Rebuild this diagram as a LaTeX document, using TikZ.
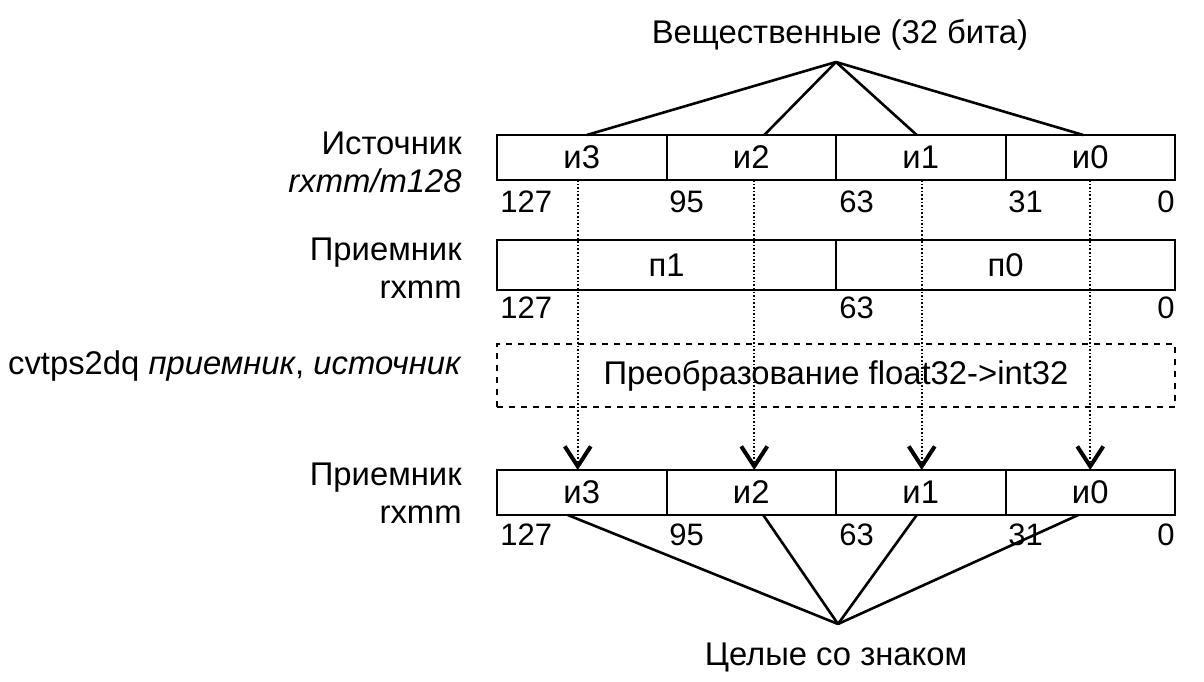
\documentclass[tikz,border=0pt]{standalone}
\usepackage{fontspec}
\setmainfont{Liberation Sans}
\usetikzlibrary{arrows.meta}
\begin{document}
\begin{tikzpicture}[x=0.5pt,y=-0.5pt,
  every node/.style={font=\fontsize{16.4}{19}\selectfont},
  cell/.style={draw, line width=1pt, minimum width=84.75pt, minimum height=22.5pt, inner sep=0pt, outer sep=0pt},
  wcell/.style={draw, line width=1pt, minimum width=169.5pt, minimum height=25pt, inner sep=0pt, outer sep=0pt},
  bit/.style={inner sep=0pt, font=\fontsize{15.5}{18}\selectfont},
  lab/.style={align=right, anchor=east, inner sep=0pt},
  fan/.style={line width=1.3pt},
  flow/.style={densely dotted, line width=0.8pt, -{Straight Barb[length=10pt,width=13pt,line width=2pt]}}]
\useasboundingbox (0,0) rectangle (1204,681);

% title
\node (title) at (840,35) {Вещественные (32 бита)};
\coordinate (topapex) at (836,62);

% source register
\node[cell] (s3) at (581.75,157.5) {и3};
\node[cell] (s2) at (751.25,157.5) {и2};
\node[cell] (s1) at (920.75,157.5) {и1};
\node[cell] (s0) at (1090.25,157.5) {и0};
\node[bit, anchor=west] (sb127) at (500,202) {127};
\node[bit, anchor=west] (sb95) at (669,202) {95};
\node[bit, anchor=west] (sb63) at (839,202) {63};
\node[bit, anchor=west] (sb31) at (1008,202) {31};
\node[bit, anchor=east] (sb0) at (1175,202) {0};

\draw[fan] (topapex) -- ([xshift=2.5pt]s3.north);
\draw[fan] (topapex) -- ([xshift=6.5pt]s2.north);
\draw[fan] (topapex) -- ([xshift=-2pt]s1.north);
\draw[fan] (topapex) -- ([xshift=-3.5pt]s0.north);

% destination register (before)
\node[wcell] (p1) at (666.5,265) {п1};
\node[wcell] (p0) at (1005.5,265) {п0};
\node[bit, anchor=west] (pb127) at (500,308) {127};
\node[bit, anchor=west] (pb63) at (839,308) {63};
\node[bit, anchor=east] (pb0) at (1175,308) {0};

% conversion
\node[draw, dashed, line width=1pt, minimum width=339pt, minimum height=31.5pt, inner sep=0pt] (conv) at (836,375.5) {Преобразование float32->int32};

% destination register (after)
\node[cell] (d3) at (581.75,492.5) {и3};
\node[cell] (d2) at (751.25,492.5) {и2};
\node[cell] (d1) at (920.75,492.5) {и1};
\node[cell] (d0) at (1090.25,492.5) {и0};
\node[bit, anchor=west] (db127) at (500,535) {127};
\node[bit, anchor=west] (db95) at (669,535) {95};
\node[bit, anchor=west] (db63) at (839,535) {63};
\node[bit, anchor=west] (db31) at (1008,535) {31};
\node[bit, anchor=east] (db0) at (1175,535) {0};

\draw[flow] ([xshift=-2pt]s3.south) -- ([xshift=-2pt]d3.north);
\draw[flow] ([xshift=1.5pt]s2.south) -- ([xshift=1.5pt]d2.north);
\draw[flow] ([xshift=0.5pt]s1.south) -- ([xshift=0.5pt]d1.north);
\draw[flow] (s0.south) -- (d0.north);

\coordinate (botapex) at (838,624);
\draw[fan] (botapex) -- ([xshift=-7pt]d3.south);
\draw[fan] (botapex) -- ([xshift=6pt]d2.south);
\draw[fan] (botapex) -- ([xshift=-2pt]d1.south);
\draw[fan] (botapex) -- ([xshift=-6pt]d0.south);
\node (sub) at (836,657) {Целые со знаком};

% left labels
\node[lab] (lsrc) at (462,162) {Источник\\\textit{rxmm/m128}};
\node[lab] (ldst1) at (462,268) {Приемник\\rxmm};
\node[lab] (lcmd) at (462,366) {cvtps2dq \textit{приемник}, \textit{источник}};
\node[lab] (ldst2) at (462,493) {Приемник\\rxmm};
\end{tikzpicture}
\end{document}
